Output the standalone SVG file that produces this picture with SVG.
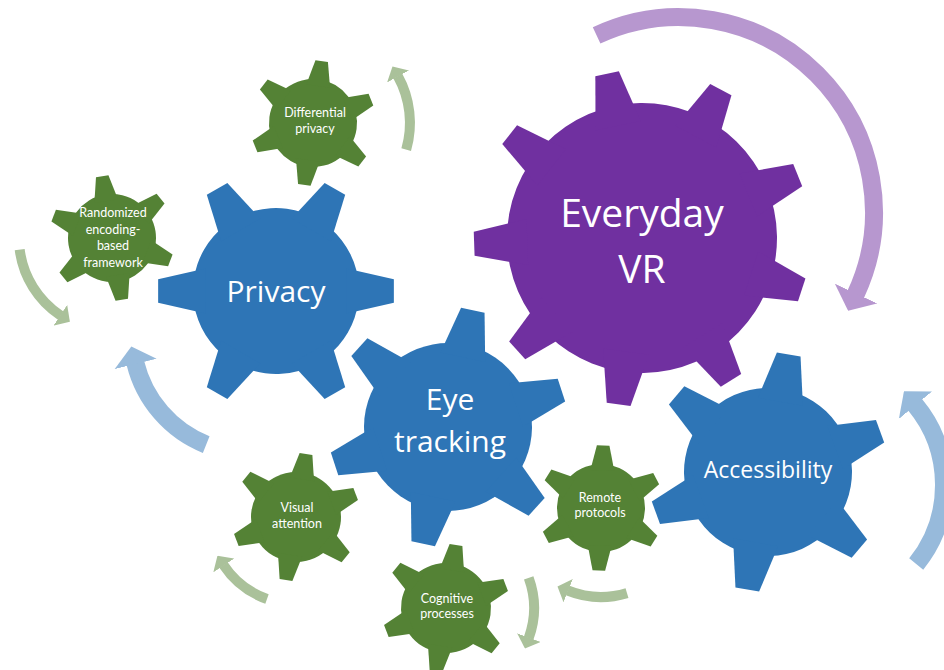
<svg xmlns="http://www.w3.org/2000/svg" width="944" height="670" viewBox="0 0 944 670">
<style>
.purple{fill:#7030A0}
.blue{fill:#2E75B6}
.green{fill:#548235}
.lbl{fill:#ffffff;font-family:"Open Sans","Noto Sans",sans-serif;text-anchor:middle}
.sm{fill:#ffffff;font-family:Lato,"Open Sans",sans-serif;font-size:12.5px;text-anchor:middle}
.arc{fill:none;stroke-linecap:butt}
.ap{stroke:#B797CF;stroke-width:18;marker-end:url(#ah-p)}
.ab{stroke:#97BADB;stroke-width:18;marker-end:url(#ah-b)}
.ag{stroke:#AAC19A;stroke-width:10;marker-end:url(#ah-g)}
</style>
<defs>
<polygon id="t6" points="-0.272,-0.85 -0.143,-1.42 0.143,-1.42 0.272,-0.85"/>
<polygon id="t9" points="-0.171,-0.85 -0.089,-1.244 0.089,-1.244 0.171,-0.85"/>
<g id="g6">
<circle r="1"/>
<use href="#t6"/>
<use href="#t6" transform="rotate(60)"/>
<use href="#t6" transform="rotate(120)"/>
<use href="#t6" transform="rotate(180)"/>
<use href="#t6" transform="rotate(240)"/>
<use href="#t6" transform="rotate(300)"/>
</g>
<g id="g9">
<circle r="1"/>
<use href="#t9"/>
<use href="#t9" transform="rotate(40)"/>
<use href="#t9" transform="rotate(80)"/>
<use href="#t9" transform="rotate(120)"/>
<use href="#t9" transform="rotate(160)"/>
<use href="#t9" transform="rotate(200)"/>
<use href="#t9" transform="rotate(240)"/>
<use href="#t9" transform="rotate(280)"/>
<use href="#t9" transform="rotate(320)"/>
</g>
<marker id="ah-p" viewBox="0 0 1.05 2.6" refX="0.05" refY="1.3" markerWidth="1.05" markerHeight="2.6" orient="auto" markerUnits="strokeWidth"><path d="M0,0 L1.05,1.3 L0,2.6 Z" fill="#B797CF"/></marker>
<marker id="ah-b" viewBox="0 0 1 2.4" refX="0.05" refY="1.2" markerWidth="1" markerHeight="2.4" orient="auto" markerUnits="strokeWidth"><path d="M0,0 L1,1.2 L0,2.4 Z" fill="#97BADB"/></marker>
<marker id="ah-g" viewBox="0 0 1.15 2.5" refX="0.05" refY="1.25" markerWidth="1.15" markerHeight="2.5" orient="auto" markerUnits="strokeWidth"><path d="M0,0 L1.15,1.25 L0,2.5 Z" fill="#AAC19A"/></marker>
</defs>

<g id="connectors">
<path class="arc ap" d="M596.6,35.3 A195,195 0 0 1 855.7,294.4"/>
<path class="arc ab" d="M206.2,444.6 A118,118 0 0 1 135.4,363.1"/>
<path class="arc ab" d="M916.2,564 A126,126 0 0 0 914.9,404.5"/>
<path class="arc ag" d="M406.2,149.7 A97,97 0 0 0 397.8,76"/>
<path class="arc ag" d="M19.7,249.7 A93,93 0 0 0 60.7,315.6"/>
<path class="arc ag" d="M267,599 A87,87 0 0 1 223.5,565"/>
<path class="arc ag" d="M528.7,577.9 A88,88 0 0 1 528.7,638.1"/>
<path class="arc ag" d="M627,593.1 A89,89 0 0 1 567.7,590.5"/>
</g>

<g id="everyday-vr">
<use href="#g9" class="purple" transform="translate(642,238) rotate(-12) scale(135)"/>
<text class="lbl" x="642" y="227" font-size="39">Everyday</text>
<text class="lbl" x="642" y="283" font-size="39">VR</text>
</g>

<g id="privacy">
<use href="#g6" class="blue" transform="translate(276,291) rotate(30) scale(83)"/>
<text class="lbl" x="276" y="302" font-size="30">Privacy</text>
</g>

<g id="eye-tracking">
<use href="#g6" class="blue" transform="translate(448,427) rotate(12) scale(84)"/>
<text class="lbl" x="450" y="410" font-size="30">Eye</text>
<text class="lbl" x="450" y="452" font-size="30">tracking</text>
</g>

<g id="accessibility">
<use href="#g6" class="blue" transform="translate(768,472) rotate(10) scale(84)"/>
<text class="lbl" x="768" y="478" font-size="23">Accessibility</text>
</g>

<g id="differential-privacy">
<use href="#g6" class="green" transform="translate(313,123) rotate(8) scale(44)"/>
<text class="sm" x="315" y="117">Differential</text>
<text class="sm" x="315" y="133">privacy</text>
</g>

<g id="randomized-encoding">
<use href="#g6" class="green" transform="translate(112,238) rotate(-9) scale(44)"/>
<text class="sm" x="113" y="217">Randomized</text>
<text class="sm" x="113" y="234">encoding-</text>
<text class="sm" x="113" y="250">based</text>
<text class="sm" x="113" y="267">framework</text>
</g>

<g id="visual-attention">
<use href="#g6" class="green" transform="translate(296,517) rotate(9) scale(45)"/>
<text class="sm" x="297" y="512">Visual</text>
<text class="sm" x="297" y="527.5">attention</text>
</g>

<g id="cognitive-processes">
<use href="#g6" class="green" transform="translate(446,608) rotate(9) scale(45)"/>
<text class="sm" x="447" y="602.5">Cognitive</text>
<text class="sm" x="447" y="618">processes</text>
</g>

<g id="remote-protocols">
<use href="#g6" class="green" transform="translate(601,508) rotate(2) scale(44)"/>
<text class="sm" x="600" y="501.5">Remote</text>
<text class="sm" x="600" y="517">protocols</text>
</g>
</svg>
